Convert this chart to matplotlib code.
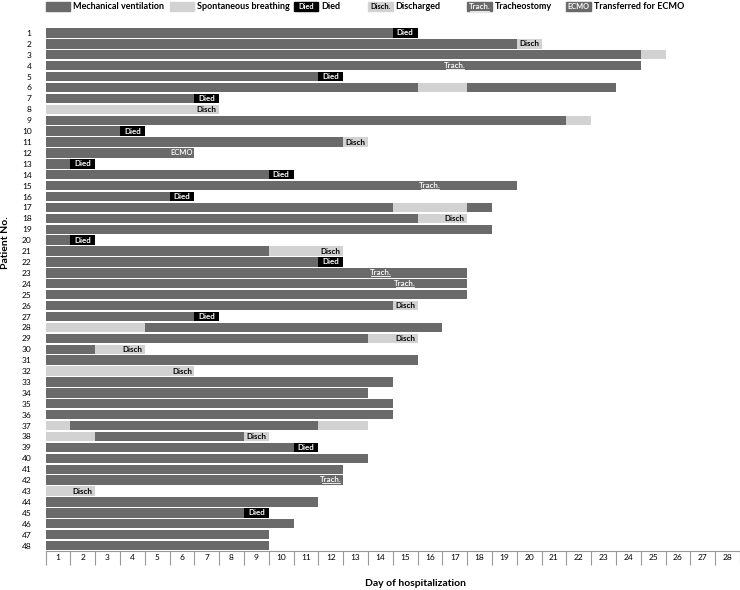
import matplotlib.pyplot as plt
from matplotlib.patches import Rectangle
import matplotlib.transforms as mtransforms

# patient rows 1..48
patients = list(range(1, 49))

# (patient, first day index, number of days)
mech_vent = [
    (1, 0, 14), (2, 0, 19), (3, 0, 24), (4, 0, 24), (5, 0, 11), (6, 0, 15), (6, 17, 6),
    (7, 0, 6), (9, 0, 21), (10, 0, 3), (11, 0, 12), (12, 0, 6), (13, 0, 1), (14, 0, 9),
    (15, 0, 19), (16, 0, 5), (17, 0, 14), (17, 17, 1), (18, 0, 15), (19, 0, 18), (20, 0, 1),
    (21, 0, 9), (22, 0, 11), (23, 0, 17), (24, 0, 17), (25, 0, 17), (26, 0, 14), (27, 0, 6),
    (28, 4, 12), (29, 0, 13), (30, 0, 2), (31, 0, 15), (33, 0, 14), (34, 0, 13), (35, 0, 14),
    (36, 0, 14), (37, 1, 10), (38, 2, 6), (39, 0, 10), (40, 0, 13), (41, 0, 12), (42, 0, 12),
    (44, 0, 11), (45, 0, 8), (46, 0, 10), (47, 0, 9), (48, 0, 9),
]
spont_breath = [
    (2, 19, 1), (3, 24, 1), (6, 15, 2), (8, 0, 7), (9, 21, 1), (11, 12, 1), (17, 14, 3),
    (18, 15, 2), (21, 9, 3), (26, 14, 1), (28, 0, 4), (29, 13, 2), (30, 2, 2), (32, 0, 6),
    (37, 0, 1), (37, 11, 2), (38, 0, 2), (38, 8, 1), (43, 0, 2),
]
# (patient, day index of death)
died = [(1, 14), (5, 11), (7, 6), (10, 3), (13, 1), (14, 9), (16, 5), (20, 1), (22, 11),
        (27, 6), (39, 10), (45, 8)]
# (patient, day index with the label)
discharged = [(2, 19), (8, 6), (11, 12), (18, 16), (21, 11), (26, 14), (29, 14), (30, 3),
              (32, 5), (38, 8), (43, 1)]
tracheostomy = [(4, 16), (15, 15), (23, 13), (24, 14), (42, 11)]
ecmo = [(12, 5)]
days = list(range(1, 29))

MV = '#6a6a6a'
SB = '#d2d2d2'
plt.rcParams['font.family'] = ['Lato', 'DejaVu Sans']
FS = 5.8

fig = plt.figure(figsize=(7.4, 5.9), dpi=100)
ax = fig.add_axes([45.5 / 740, 1 - 551 / 590, 694.5 / 740, 523.5 / 590])


def trach_label(x, y, transform, dy):
    # text with a hand drawn underline
    ax.text(x, y, 'Trach.', color='white', fontsize=FS, fontweight='semibold',
            ha='center', va='center', transform=transform)
    ax.plot([x - 0.37, x + 0.37], [y + dy, y + dy], color='white', lw=0.6,
            transform=transform, clip_on=False)


h = 0.86
for p, s, n in mech_vent:
    ax.barh(p, n, left=s, height=h, color=MV, linewidth=0)
for p, s, n in spont_breath:
    ax.barh(p, n, left=s, height=h, color=SB, linewidth=0)
for p, d in died:
    ax.barh(p, 1, left=d, height=h, color='black', linewidth=0)
    ax.text(d + 0.5, p, 'Died', color='white', fontsize=FS, fontweight='bold',
            ha='center', va='center')
for p, d in discharged:
    ax.text(d + 0.5, p, 'Disch', color='black', fontsize=FS, fontweight='bold',
            ha='center', va='center')
for p, d in tracheostomy:
    trach_label(d + 0.5, p - 0.05, ax.transData, 0.35)
for p, d in ecmo:
    ax.text(d + 0.5, p, 'ECMO', color='white', fontsize=FS - 0.3, fontweight='semibold',
            ha='center', va='center')

ax.set_xlim(0, 28)
ax.set_ylim(48.5, 0.5)
ax.set_yticks(patients)
ax.set_yticklabels([str(p) for p in patients], fontsize=6)
ax.tick_params(axis='y', length=0, pad=10)
ax.set_xticks(range(0, 29))
ax.set_xticklabels([])
ax.set_xticks([d - 0.5 for d in days], minor=True)
ax.set_xticklabels([str(d) for d in days], minor=True, fontsize=6)
ax.tick_params(axis='x', which='major', length=10, color='#999999', width=0.8)
ax.tick_params(axis='x', which='minor', length=0, pad=2)
for s in ['top', 'right', 'left']:
    ax.spines[s].set_visible(False)
ax.spines['bottom'].set_color('#999999')
ax.spines['bottom'].set_linewidth(0.8)

# legend row above the chart
trans = mtransforms.blended_transform_factory(ax.transData, fig.transFigure)
ly, lh = 1 - 11 / 590, 9 / 590
legend_items = [
    (0, MV, '', 'white', 'Mechanical ventilation'),
    (5, SB, '', 'black', 'Spontaneous breathing'),
    (10, 'black', 'Died', 'white', 'Died'),
    (13, SB, 'Disch.', 'black', 'Discharged'),
    (17, MV, 'Trach.', 'white', 'Tracheostomy'),
    (21, MV, 'ECMO', 'white', 'Transferred for ECMO'),
]
for x0, col, box_txt, txt_col, lab in legend_items:
    ax.add_patch(Rectangle((x0, ly), 1, lh, transform=trans, color=col, clip_on=False))
    if box_txt == 'Trach.':
        trach_label(x0 + 0.5, ly + lh / 2, trans, -4 / 590)
    elif box_txt:
        ax.text(x0 + 0.5, ly + lh / 2, box_txt, transform=trans, color=txt_col,
                fontsize=FS - 0.5, fontweight='bold', ha='center', va='center')
    ax.text(x0 + 1.1, ly + lh / 2, lab, transform=trans, fontsize=6.5,
            fontweight='bold', ha='left', va='center')

fig.text(6 / 740, 1 - 243 / 590, 'Patient No.', rotation=90, fontsize=7.5,
         fontweight='bold', ha='center', va='center')
fig.text(415 / 740, 1 - 584 / 590, 'Day of hospitalization', fontsize=7.5,
         fontweight='bold', ha='center', va='center')

fig.savefig('out.png', dpi=100)
